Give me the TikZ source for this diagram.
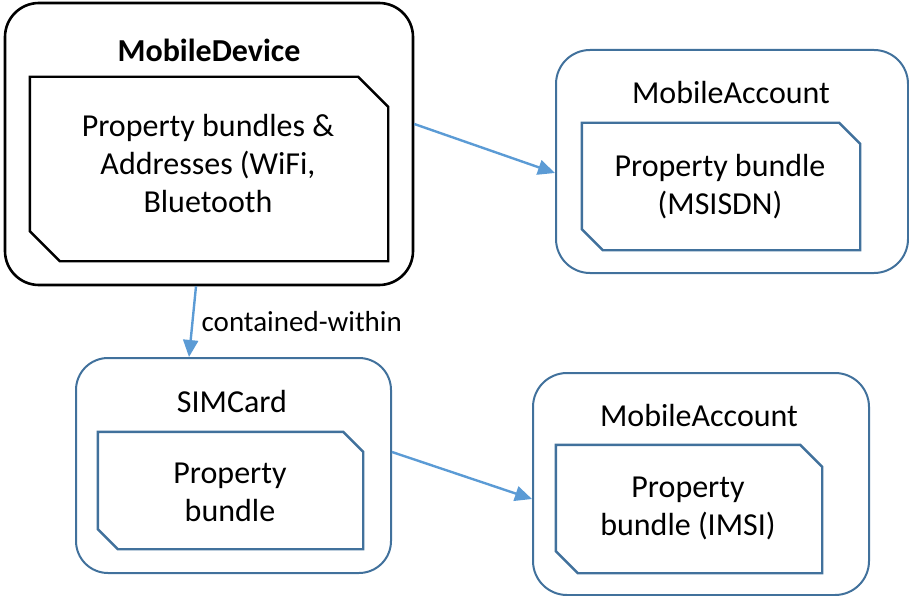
\documentclass[tikz,border=0pt]{standalone}
\usepackage{fontspec}
\setmainfont{Carlito}
\usetikzlibrary{arrows.meta,calc}
\definecolor{boxblue}{HTML}{41719C}
\definecolor{arrowblue}{HTML}{5B9BD5}
\tikzset{
  outerbox/.style={draw, rounded corners=34pt, inner sep=0pt, line width=2pt},
  bodytext/.style={inner sep=0pt, align=center, font=\fontsize{32}{38}\selectfont},
  titletext/.style={inner sep=0pt, font=\fontsize{32}{38}\selectfont},
  link/.style={draw=arrowblue, line width=2.4pt, -{Triangle[length=17pt,width=15pt]}},
}
\newcommand\snipbox[3]{% name, snip, colour
  \draw[#3, line width=2.4pt, line join=miter]
    (#1.north west) -- ($(#1.north east)+(-#2,0)$) -- ($(#1.north east)+(0,#2)$)
    -- (#1.south east) -- ($(#1.south west)+(#2,0)$) -- ($(#1.south west)+(0,-#2)$) -- cycle;}
\begin{document}
\begin{tikzpicture}[x=1pt,y=-1pt]
\useasboundingbox (0,0) rectangle (909,596);
% MobileDevice
\node[outerbox, line width=2.6pt, minimum width=408pt, minimum height=282pt] (md) at (209,144) {};
\node[titletext, font=\fontsize{32}{38}\selectfont\bfseries] (mdt) at (209,50) {MobileDevice};
\node[bodytext, minimum width=358pt, minimum height=184pt] (mdb) at (209,169) {};
\node[bodytext] (mdtx) at (208,163.5) {Property bundles \&\\Addresses (WiFi,\\Bluetooth};
\snipbox{mdb}{30}{black}
% MobileAccount top
\node[outerbox, draw=boxblue, minimum width=352pt, minimum height=223pt] (ma1) at (732,161.5) {};
\node[titletext] (ma1t) at (731,93) {MobileAccount};
\node[bodytext, minimum width=278pt, minimum height=127pt] (ma1b) at (721,186.5) {};
\node[bodytext] (ma1tx) at (720,186.5) {Property bundle\\(MSISDN)};
\snipbox{ma1b}{21}{boxblue}
% SIMCard
\node[outerbox, draw=boxblue, rounded corners=32pt, minimum width=315pt, minimum height=215pt] (sim) at (233.5,465.5) {};
\node[titletext] (simt) at (232,402) {SIMCard};
\node[bodytext, minimum width=265pt, minimum height=117pt] (simb) at (230.5,490.5) {};
\node[bodytext] (simtx) at (230,492.5) {Property\\bundle};
\snipbox{simb}{20}{boxblue}
% MobileAccount bottom
\node[outerbox, draw=boxblue, minimum width=336pt, minimum height=222pt] (ma2) at (701,484) {};
\node[titletext] (ma2t) at (699,416) {MobileAccount};
\node[bodytext, minimum width=266pt, minimum height=128pt] (ma2b) at (689,509) {};
\node[bodytext] (ma2tx) at (688,508) {Property\\bundle (IMSI)};
\snipbox{ma2b}{22}{boxblue}
% connectors
\draw[link] ([yshift=20pt]md.east) -- ([yshift=-11.5pt]ma1.west);
\draw[link] ([xshift=-13pt]md.south) -- node[right, inner sep=0pt, xshift=8pt, font=\fontsize{29}{34}\selectfont] (lbl) {contained-within} ([xshift=-44.5pt]sim.north);
\draw[link] ([yshift=13.5pt]sim.east) -- ([yshift=-15pt]ma2.west);
\end{tikzpicture}
\end{document}
